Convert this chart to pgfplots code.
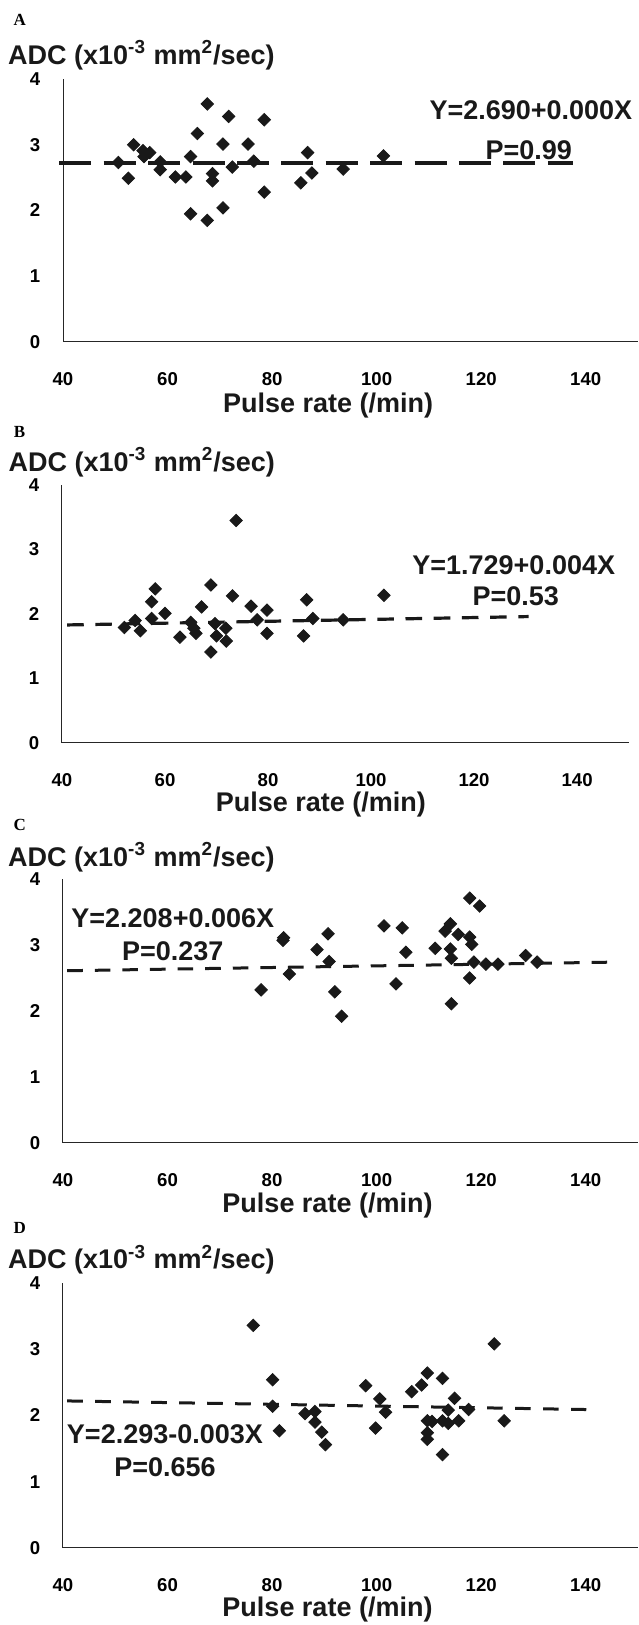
\documentclass[border=0pt]{standalone}
\usepackage{fontspec}
\setmainfont{Liberation Sans}
\newfontfamily\letterfont{Liberation Serif}
\usepackage{pgfplots}
\pgfplotsset{compat=1.18}

\pgfplotsset{
  adcpanel/.style={
    scale only axis,
    xmin=40, xmax=150, ymin=0, ymax=4,
    xtick={40,60,...,140}, ytick={0,1,2,3,4},
    xticklabels={\textbf{40},\textbf{60},\textbf{80},\textbf{100},\textbf{120},\textbf{140}},
    yticklabels={\textbf{0},\textbf{1},\textbf{2},\textbf{3},\textbf{4}},
    axis x line*=bottom, axis y line*=left,
    axis line style={-, black!85, line width=0.5pt},
    x axis line style={-}, y axis line style={-},
    major tick length=0pt,
    tick label style={font=\fontsize{9.3}{11}\selectfont, text=black},
    x tick label style={yshift=-11.5pt},
    y tick label style={xshift=-7.8pt},
    xlabel={Pulse rate (/min)},
    ylabel={ADC (x10\textsuperscript{-3} mm\textsuperscript{2}/sec)},
    label style={font=\fontsize{13.5}{16}\selectfont\bfseries, text=black!90},
    ylabel style={rotate=-90, anchor=west, inner sep=0pt},
    xlabel style={anchor=center},
    clip=false,
  },
  adcdots/.style={only marks, mark=square*, mark size=2.2pt, color=black!90,
    mark options={rotate=45}},
  fitline/.style={no marks, color=black!90},
}
\tikzset{
  note/.style={font=\fontsize{13.5}{16}\selectfont\bfseries, text=black!90},
  letter/.style={font=\letterfont\bfseries\fontsize{8.5}{10}\selectfont},
}

\begin{document}
\begin{tikzpicture}
\useasboundingbox (0,0) rectangle (319pt,812.5pt);

% A
\begin{axis}[adcpanel, width=287.5pt, height=131.5pt,
  at={(31.5pt,641.5pt)}, anchor=south west,
  xlabel style={at={(axis description cs:0.461,-0.24)}},
  ylabel style={at={(axis description cs:-0.096,1.091)}}]
\addplot[fitline, line width=1.65pt, dash pattern=on 16pt off 6.2pt]
  coordinates {(39.3,2.72) (137.6,2.72)};
\addplot[adcdots] coordinates {
 (50.6,2.73) (52.5,2.49) (53.5,3.00) (55.3,2.91) (55.5,2.82) (56.6,2.88)
 (58.6,2.74) (58.6,2.62) (61.5,2.51) (63.5,2.51) (64.4,2.82) (64.4,1.95)
 (65.7,3.17) (67.6,3.62) (67.6,1.85) (68.6,2.56) (68.6,2.45) (70.6,3.01)
 (70.6,2.04) (71.7,3.43) (72.4,2.66) (75.4,3.01) (76.5,2.75) (78.5,3.38)
 (78.5,2.28) (85.5,2.42) (86.8,2.88) (87.6,2.57) (93.6,2.63) (101.3,2.83)};
\node[note] at (axis cs:129.5,3.53) {Y=2.690+0.000X};
\node[note] at (axis cs:129.1,2.92) {P=0.99};
\node[letter] at (axis description cs:-0.075,1.224) {A};
\end{axis}

% B
\begin{axis}[adcpanel, width=283.3pt, height=129pt,
  at={(31pt,441pt)}, anchor=south west,
  xlabel style={at={(axis description cs:0.457,-0.24)}},
  ylabel style={at={(axis description cs:-0.095,1.089)}}]
\addplot[fitline, line width=1.6pt, dash pattern=on 8.3pt off 5.8pt]
  coordinates {(41,1.83) (130.6,1.96)};
\addplot[adcdots] coordinates {
 (52.1,1.79) (54.2,1.90) (55.2,1.74) (57.4,2.19) (57.4,1.93) (58.1,2.39)
 (60.0,2.01) (62.9,1.64) (65.0,1.87) (65.6,1.78) (66.0,1.70) (67.1,2.11)
 (68.9,2.45) (68.9,1.41) (69.7,1.85) (70.0,1.66) (71.8,1.78) (71.9,1.58)
 (73.1,2.28) (73.8,3.45) (76.7,2.12) (77.9,1.91) (79.8,2.06) (79.8,1.70)
 (86.9,1.66) (87.5,2.22) (88.7,1.93) (94.6,1.91) (102.5,2.29)};
\node[note] at (axis cs:127.7,2.76) {Y=1.729+0.004X};
\node[note] at (axis cs:128.1,2.27) {P=0.53};
\node[letter] at (axis description cs:-0.075,1.205) {B};
\end{axis}

% C
\begin{axis}[adcpanel, width=287.5pt, height=132pt,
  at={(31.5pt,241pt)}, anchor=south west,
  xlabel style={at={(axis description cs:0.46,-0.235)}},
  ylabel style={at={(axis description cs:-0.096,1.083)}}]
\addplot[fitline, line width=1.5pt, dash pattern=on 7.8pt off 6pt]
  coordinates {(40.8,2.61) (145,2.74)};
\addplot[adcdots] coordinates {
 (77.9,2.32) (82.2,3.11) (82.1,3.07) (83.3,2.56) (88.6,2.93) (90.7,3.17)
 (90.9,2.75) (92.0,2.29) (93.3,1.92) (101.4,3.29) (103.7,2.41) (104.9,3.26)
 (105.6,2.89) (111.2,2.95) (113.1,3.21) (114.1,3.32) (114.1,2.94) (114.3,2.80)
 (114.3,2.11) (115.6,3.16) (117.8,3.71) (117.8,3.12) (118.2,3.01) (117.8,2.50)
 (118.6,2.74) (119.7,3.59) (120.9,2.71) (123.2,2.71) (128.5,2.84) (130.7,2.74)};
\node[note] at (axis cs:61.0,3.40) {Y=2.208+0.006X};
\node[note] at (axis cs:61.0,2.91) {P=0.237};
\node[letter] at (axis description cs:-0.075,1.205) {C};
\end{axis}

% D
\begin{axis}[adcpanel, width=287.5pt, height=132.5pt,
  at={(31.5pt,38.5pt)}, anchor=south west,
  xlabel style={at={(axis description cs:0.46,-0.234)}},
  ylabel style={at={(axis description cs:-0.096,1.087)}}]
\addplot[fitline, line width=1.5pt, dash pattern=on 7.8pt off 6.2pt]
  coordinates {(40.8,2.22) (140.1,2.09)};
\addplot[adcdots] coordinates {
 (76.4,3.36) (80.1,2.54) (80.1,2.14) (81.4,1.77) (86.3,2.03) (88.2,2.06)
 (88.2,1.90) (89.5,1.75) (90.2,1.56) (97.9,2.45) (99.8,1.81) (100.6,2.25)
 (101.7,2.05) (106.7,2.36) (108.6,2.46) (109.7,2.64) (109.7,1.92) (109.7,1.74)
 (109.7,1.64) (110.6,1.91) (112.6,2.56) (112.6,1.92) (112.6,1.41) (113.7,2.08)
 (113.7,1.88) (114.9,2.26) (115.7,1.92) (117.6,2.09) (122.5,3.08) (124.4,1.92)};
\node[note] at (axis cs:59.5,1.72) {Y=2.293-0.003X};
\node[note] at (axis cs:59.5,1.22) {P=0.656};
\node[letter] at (axis description cs:-0.075,1.208) {D};
\end{axis}
\end{tikzpicture}
\end{document}
